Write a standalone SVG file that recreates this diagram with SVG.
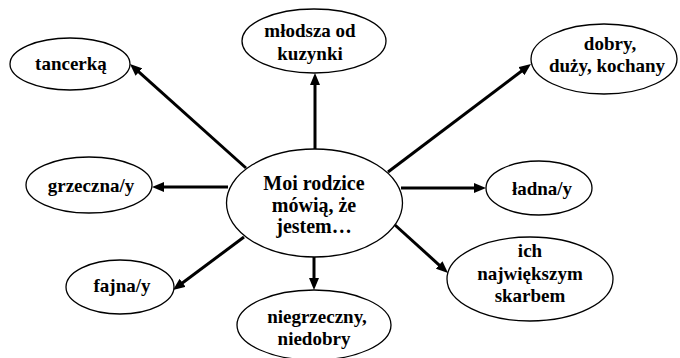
<svg xmlns="http://www.w3.org/2000/svg" width="680" height="358" viewBox="0 0 680 358">
  <style>
    .node ellipse { fill: #ffffff; stroke: #000000; stroke-width: 1.3; }
    .node text { font-weight: bold; font-size: 19px; fill: #000000; text-anchor: middle; }
    #center text { font-size: 20px; }
    .edge { stroke: #000000; stroke-width: 3; fill: none; marker-end: url(#head); }
  </style>
  <defs>
    <marker id="head" markerUnits="userSpaceOnUse" markerWidth="12" markerHeight="10" refX="2" refY="5" orient="auto">
      <path d="M0,0 L12,5 L0,10 z" fill="#000000"/>
    </marker>
  </defs>
  <rect width="680" height="358" fill="#ffffff"/>

  <g id="connectors">
    <line class="edge" x1="246" y1="168" x2="137.4" y2="70.7"/>
    <line class="edge" x1="315" y1="149" x2="315" y2="83"/>
    <line class="edge" x1="388" y1="172" x2="523" y2="70"/>
    <line class="edge" x1="228" y1="187" x2="162" y2="187"/>
    <line class="edge" x1="244" y1="237" x2="181" y2="284"/>
    <line class="edge" x1="314" y1="257" x2="314" y2="280"/>
    <line class="edge" x1="401" y1="188" x2="476" y2="188"/>
    <line class="edge" x1="395" y1="225" x2="440.6" y2="266.3"/>
  </g>

  <g id="center" class="node">
    <ellipse cx="314.5" cy="203" rx="88" ry="54"/>
    <text x="314" y="190" font-family="'Liberation Serif', serif">Moi rodzice</text>
    <text x="314" y="212" font-family="'Liberation Serif', serif">mówią, że</text>
    <text x="314" y="233" font-family="'Liberation Serif', serif">jestem…</text>
  </g>

  <g id="tancerka" class="node">
    <ellipse cx="70" cy="64" rx="60" ry="26"/>
    <text x="71" y="70" font-family="'Liberation Serif', serif">tancerką</text>
  </g>

  <g id="mlodsza" class="node">
    <ellipse cx="314" cy="41" rx="72" ry="32"/>
    <text x="310" y="37" font-family="'Liberation Serif', serif">młodsza od</text>
    <text x="310" y="60" font-family="'Liberation Serif', serif">kuzynki</text>
  </g>

  <g id="dobry" class="node">
    <ellipse cx="604" cy="59" rx="73" ry="35"/>
    <text x="610" y="50" font-family="'Liberation Serif', serif">dobry,</text>
    <text x="607" y="72" font-family="'Liberation Serif', serif">duży, kochany</text>
  </g>

  <g id="grzeczna" class="node">
    <ellipse cx="89" cy="185" rx="63" ry="28"/>
    <text x="91" y="192" font-family="'Liberation Serif', serif">grzeczna/y</text>
  </g>

  <g id="ladna" class="node">
    <ellipse cx="539" cy="188" rx="53" ry="27"/>
    <text x="542" y="195" font-family="'Liberation Serif', serif">ładna/y</text>
  </g>

  <g id="fajna" class="node">
    <ellipse cx="120" cy="287" rx="54" ry="27"/>
    <text x="122" y="292" font-family="'Liberation Serif', serif">fajna/y</text>
  </g>

  <g id="skarb" class="node">
    <ellipse cx="530" cy="279" rx="83" ry="42"/>
    <text x="530" y="257" font-family="'Liberation Serif', serif">ich</text>
    <text x="530" y="280" font-family="'Liberation Serif', serif">największym</text>
    <text x="530" y="302" font-family="'Liberation Serif', serif">skarbem</text>
  </g>

  <g id="niegrzeczny" class="node">
    <ellipse cx="314" cy="325" rx="77" ry="35"/>
    <text x="317" y="323" font-family="'Liberation Serif', serif">niegrzeczny,</text>
    <text x="314" y="345" font-family="'Liberation Serif', serif">niedobry</text>
  </g>
</svg>
